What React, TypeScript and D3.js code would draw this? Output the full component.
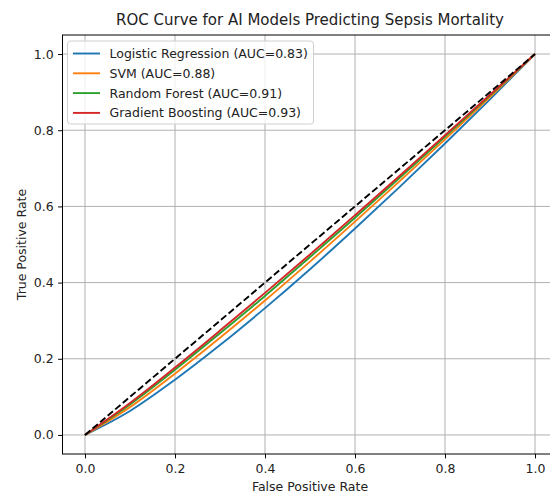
import React, { useEffect, useRef } from 'react'
import * as d3 from 'd3'

// false positive rate sample points
const fpr = [0, 0.1, 0.2, 0.3, 0.4, 0.5, 0.6, 0.7, 0.8, 0.9, 1.0]

// true positive rate
const tprLogistic = [0, 0.063, 0.145, 0.236, 0.333, 0.435, 0.542, 0.652, 0.765, 0.881, 1.0]
const tprSvm = [0, 0.073, 0.161, 0.255, 0.353, 0.455, 0.560, 0.667, 0.776, 0.887, 1.0]
const tprForest = [0, 0.080, 0.171, 0.267, 0.365, 0.467, 0.570, 0.676, 0.783, 0.891, 1.0]
const tprBoosting = [0, 0.084, 0.177, 0.274, 0.373, 0.474, 0.577, 0.681, 0.787, 0.893, 1.0]

const modelNames = ['Logistic Regression', 'SVM', 'Random Forest', 'Gradient Boosting']
const aucValues = [0.83, 0.88, 0.91, 0.93]
const modelColors = ['#1f77b4', '#ff7f0e', '#2ca02c', '#d62728']

const tickValues = [0, 0.2, 0.4, 0.6, 0.8, 1.0]

function App() {
  const ref = useRef<SVGSVGElement>(null)

  useEffect(() => {
    document.body.style.margin = '0'
    const svg = d3.select(ref.current)
    svg.selectAll('*').remove()

    const width = 550
    const height = 494
    const left = 62.5
    const right = 557.5
    const top = 35
    const bottom = 454
    const font = 'DejaVu Sans, sans-serif'
    const fs = '12.5px'

    const xScale = d3.scaleLinear().domain([-0.05, 1.05]).range([left, right])
    const yScale = d3.scaleLinear().domain([-0.05, 1.05]).range([bottom, top])

    svg.append('rect').attr('width', width).attr('height', height).attr('fill', '#fff')

    // grid
    const grid = svg.append('g')
    tickValues.forEach(t => {
      grid.append('line')
        .attr('x1', xScale(t)).attr('x2', xScale(t))
        .attr('y1', top).attr('y2', bottom)
        .attr('stroke', '#b0b0b0').attr('stroke-width', 1)
      grid.append('line')
        .attr('x1', left).attr('x2', right)
        .attr('y1', yScale(t)).attr('y2', yScale(t))
        .attr('stroke', '#b0b0b0').attr('stroke-width', 1)
    })

    const line = d3.line<number>()
      .x((d, i) => xScale(fpr[i]))
      .y(d => yScale(d))
      .curve(d3.curveMonotoneX)

    const series = [tprLogistic, tprSvm, tprForest, tprBoosting]
    series.forEach((s, i) => {
      svg.append('path')
        .attr('d', line(s))
        .attr('fill', 'none')
        .attr('stroke', modelColors[i])
        .attr('stroke-width', 1.9)
    })

    // chance line
    svg.append('line')
      .attr('x1', xScale(0)).attr('y1', yScale(0))
      .attr('x2', xScale(1)).attr('y2', yScale(1))
      .attr('stroke', '#000')
      .attr('stroke-width', 1.9)
      .attr('stroke-dasharray', '6.9,3')

    // axes
    const axisB = d3.axisBottom(xScale).tickValues(tickValues).tickFormat(d3.format('.1f')).tickSize(4.4).tickPadding(4.4)
    const axisL = d3.axisLeft(yScale).tickValues(tickValues).tickFormat(d3.format('.1f')).tickSize(4.4).tickPadding(4.4)
    const gx = svg.append('g').attr('transform', 'translate(0,' + bottom + ')').call(axisB)
    const gy = svg.append('g').attr('transform', 'translate(' + left + ',0)').call(axisL)
    ;[gx, gy].forEach(g => {
      g.select('.domain').remove()
      g.selectAll('line').attr('stroke', '#000').attr('stroke-width', 1)
      g.selectAll('text').attr('fill', '#222').style('font-family', font).style('font-size', fs)
    })
    gx.selectAll('text').attr('dy', '0.71em').attr('y', 10)

    svg.append('rect')
      .attr('x', left).attr('y', top)
      .attr('width', right - left).attr('height', bottom - top)
      .attr('fill', 'none').attr('stroke', '#000').attr('stroke-width', 1)

    // legend
    const lg = svg.append('g')
    lg.append('rect')
      .attr('x', 67.5).attr('y', 41)
      .attr('width', 246).attr('height', 83)
      .attr('rx', 3)
      .attr('fill', 'rgba(255,255,255,0.8)')
      .attr('stroke', '#d0d0d0').attr('stroke-width', 1)
    modelNames.forEach((name, i) => {
      const y = 53.5 + i * 19.8
      lg.append('line')
        .attr('x1', 73).attr('x2', 100)
        .attr('y1', y).attr('y2', y)
        .attr('stroke', modelColors[i]).attr('stroke-width', 1.9)
      lg.append('text')
        .attr('x', 109.5).attr('y', y)
        .attr('dy', '0.36em')
        .style('font-family', font).style('font-size', fs)
        .attr('fill', '#222')
        .text(name + ' (AUC=' + aucValues[i].toFixed(2) + ')')
    })

    // titles
    svg.append('text')
      .attr('x', (left + right) / 2).attr('y', 25)
      .attr('text-anchor', 'middle')
      .style('font-family', font).style('font-size', '15px')
      .attr('fill', '#222')
      .text('ROC Curve for AI Models Predicting Sepsis Mortality')
    svg.append('text')
      .attr('x', (left + right) / 2).attr('y', 490.5)
      .attr('text-anchor', 'middle')
      .style('font-family', font).style('font-size', fs)
      .attr('fill', '#222')
      .text('False Positive Rate')
    svg.append('text')
      .attr('transform', 'translate(25.5,' + (top + bottom) / 2 + ') rotate(-90)')
      .attr('text-anchor', 'middle')
      .style('font-family', font).style('font-size', fs)
      .attr('fill', '#222')
      .text('True Positive Rate')
  }, [])

  return <svg ref={ref} width={550} height={494} style={{ display: 'block' }}></svg>
}

export default App
